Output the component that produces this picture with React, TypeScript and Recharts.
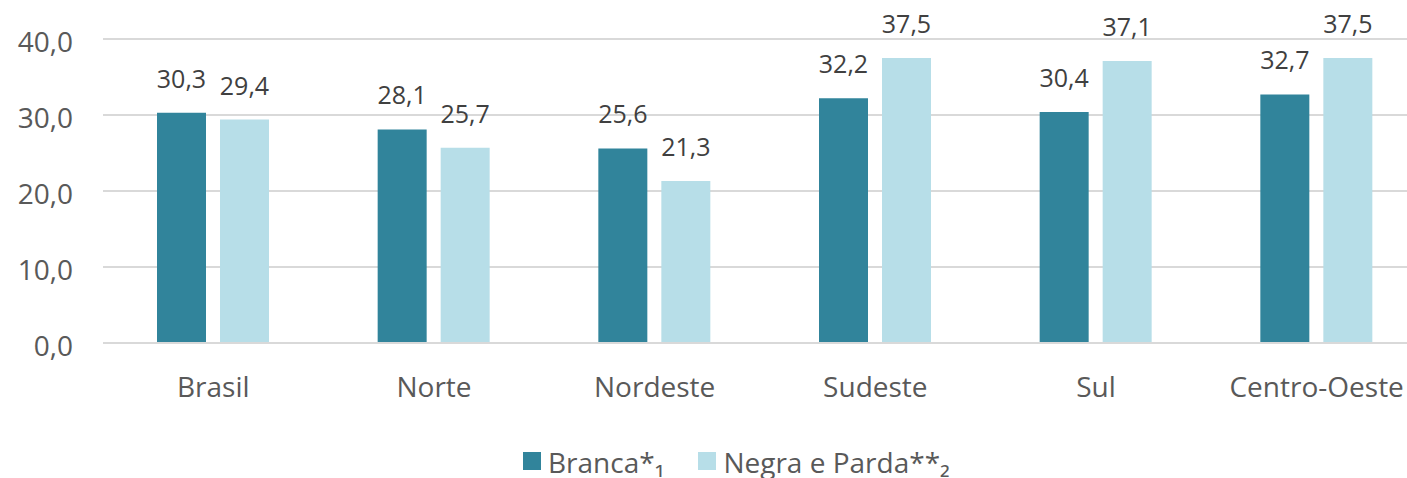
import React from "react";
import { BarChart, Bar, XAxis, YAxis, CartesianGrid, LabelList } from "recharts";

const categories = ["Brasil", "Norte", "Nordeste", "Sudeste", "Sul", "Centro-Oeste"];
const branca = [30.3, 28.1, 25.6, 32.2, 30.4, 32.7];
const negra = [29.4, 25.7, 21.3, 37.5, 37.1, 37.5];
const yTicks = [0, 10, 20, 30, 40];
const seriesNames = ["Branca*\u2081", "Negra e Parda**\u2082"];
const colors = ["#31849B", "#B7DEE8"];

const data = categories.map((c, i) => ({ name: c, branca: branca[i], negra: negra[i] }));

const fmt = (v: number) => v.toFixed(1).replace(".", ",");
const FONT = "'Open Sans', sans-serif";

const LegendBox = () => (
  <div
    style={{
      position: "absolute",
      left: 523,
      top: 448,
      display: "flex",
      alignItems: "flex-start",
      fontFamily: FONT,
      fontSize: 28,
      color: "#595959",
      lineHeight: "28px",
      whiteSpace: "nowrap",
    }}
  >
    {seriesNames.map((n, i) => (
      <div key={n} style={{ display: "flex", alignItems: "flex-start", marginRight: 34 }}>
        <span style={{ display: "inline-block", width: 18, height: 18, marginTop: 4, background: colors[i], marginRight: 7 }} />
        <span>{n}</span>
      </div>
    ))}
  </div>
);

export default function App() {
  return (
    <div style={{ position: "fixed", left: 0, top: 0, width: 1407, height: 478, overflow: "hidden", background: "#fff" }}>
      <BarChart
        width={1430}
        height={478}
        data={data}
        margin={{ top: 39, right: 3, left: 0, bottom: 0 }}
        barGap={14}
        barSize={49}
      >
        <CartesianGrid vertical={false} stroke="#D9D9D9" strokeWidth={2} />
        <XAxis
          dataKey="name"
          height={135}
          axisLine={{ stroke: "#D9D9D9", strokeWidth: 2 }}
          tickLine={false}
          tick={{ fontSize: 28, fill: "#595959", fontFamily: FONT, dy: 26 }}
          interval={0}
        />
        <YAxis
          width={103}
          domain={[0, 40]}
          ticks={yTicks}
          axisLine={false}
          tickLine={false}
          tickFormatter={fmt}
          tick={{ fontSize: 28, fill: "#595959", fontFamily: FONT, dx: -22, dy: 3 }}
        />
        <Bar dataKey="branca" name={seriesNames[0]} fill={colors[0]} isAnimationActive={false}>
          <LabelList dataKey="branca" position="top" offset={25} formatter={(v: number) => fmt(v)} style={{ fontSize: 25, fill: "#404040", fontFamily: FONT }} />
        </Bar>
        <Bar dataKey="negra" name={seriesNames[1]} fill={colors[1]} isAnimationActive={false}>
          <LabelList dataKey="negra" position="top" offset={25} formatter={(v: number) => fmt(v)} style={{ fontSize: 25, fill: "#404040", fontFamily: FONT }} />
        </Bar>
      </BarChart>
      <LegendBox />
    </div>
  );
}
